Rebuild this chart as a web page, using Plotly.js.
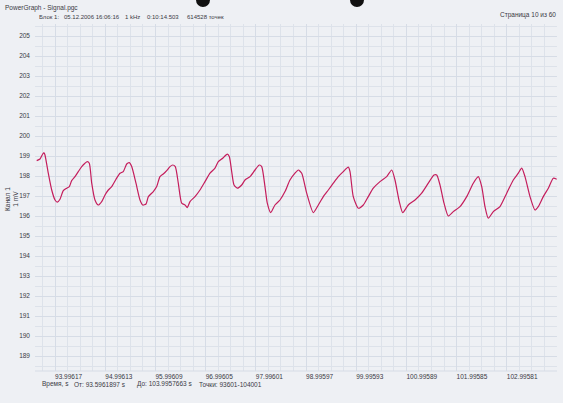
<!DOCTYPE html>
<html><head><meta charset="utf-8">
<script src="https://cdn.plot.ly/plotly-3.0.1.min.js"></script>
<style>html,body{margin:0;padding:0;background:#eef0f4;}#chart{width:563px;height:403px;}</style>
</head><body><div id="chart"></div>
<script>
// Signal samples: time (s) and value (mV)
const timeS = [93.630,93.696,93.750,93.775,93.795,93.861,93.929,93.995,94.040,94.094,94.160,94.228,94.280,94.327,94.393,94.459,94.527,94.592,94.638,94.678,94.726,94.791,94.857,94.925,94.991,95.057,95.124,95.210,95.290,95.355,95.423,95.475,95.523,95.608,95.688,95.742,95.808,95.855,95.953,96.021,96.086,96.152,96.220,96.286,96.340,96.391,96.451,96.519,96.585,96.630,96.684,96.784,96.883,96.983,97.083,97.182,97.248,97.336,97.427,97.467,97.515,97.561,97.627,97.714,97.780,97.880,97.979,98.065,98.113,98.178,98.224,98.292,98.377,98.477,98.577,98.676,98.776,98.842,98.910,99.009,99.141,99.241,99.340,99.440,99.539,99.639,99.738,99.838,99.872,99.937,100.037,100.137,100.236,100.336,100.469,100.603,100.703,100.768,100.854,100.922,101.033,101.167,101.300,101.432,101.545,101.599,101.665,101.745,101.830,101.930,102.063,102.197,102.328,102.428,102.496,102.561,102.627,102.727,102.860,102.994,103.125,103.225,103.292,103.358,103.458,103.557,103.623,103.723,103.823,103.922,103.990];
const valueMV = [198.77,198.85,199.10,199.17,199.05,198.14,197.30,196.80,196.69,196.84,197.27,197.39,197.47,197.77,197.97,198.22,198.47,198.64,198.72,198.64,197.64,196.80,196.55,196.72,197.05,197.30,197.47,197.84,198.14,198.22,198.60,198.67,198.47,197.64,196.80,196.55,196.60,196.97,197.22,197.47,197.97,198.10,198.27,198.47,198.55,198.47,197.64,196.64,196.55,196.42,196.72,196.97,197.30,197.72,198.14,198.39,198.72,198.89,199.09,198.97,198.22,197.55,197.39,197.55,197.80,197.97,198.30,198.55,198.47,197.47,196.64,196.17,196.55,196.80,197.22,197.80,198.14,198.30,198.14,197.14,196.17,196.55,196.97,197.30,197.64,197.97,198.22,198.44,198.22,196.97,196.39,196.55,196.97,197.39,197.72,197.97,198.30,197.80,196.72,196.17,196.55,196.80,197.14,197.64,198.05,198.05,197.55,196.64,196.00,196.22,196.47,196.97,197.64,197.97,197.47,196.47,195.89,196.22,196.47,197.14,197.80,198.14,198.39,197.97,196.97,196.30,196.47,196.97,197.39,197.89,197.84];
const xTickVals = [93.99617,94.99613,95.99609,96.99605,97.99601,98.99597,99.99593,100.99589,101.99585,102.99581];
const xTickText = ["93.99617","94.99613","95.99609","96.99605","97.99601","98.99597","99.99593","100.99589","101.99585","102.99581"];
const yTickVals = [189,190,191,192,193,194,195,196,197,198,199,200,201,202,203,204,205];
const timeFrom = 93.5961897, timeTo = 103.9957663;

// plot box in pixels
const L = 35, R = 6, T = 24, B = 32, W = 563, H = 403;
const pw = W - L - R, ph = H - T - B;
const px = x => (x - L) / pw;
const py = y => (H - B - y) / ph;
const font = "Liberation Sans, Arial, sans-serif";
function txt(text, x, y, opts) {
  return Object.assign({text: text, x: px(x), y: py(y), xref: 'paper', yref: 'paper',
    xanchor: 'left', yanchor: 'middle', showarrow: false,
    font: {family: font, size: 6.5, color: '#3a3a44'}}, opts || {});
}
const hdr = {font: {family: font, size: 6, color: '#3a3a44'}};

const trace = {
  x: timeS, y: valueMV, type: 'scatter', mode: 'lines',
  line: {color: '#c41d5c', width: 1.2, shape: 'spline', smoothing: 0.6},
  hoverinfo: 'skip'
};

const layout = {
  width: W, height: H,
  margin: {l: L, r: R, t: T, b: B, pad: 0},
  paper_bgcolor: '#eef0f4', plot_bgcolor: '#eef0f4',
  showlegend: false,
  xaxis: {
    range: [timeFrom, timeTo], tickmode: 'array', tickvals: xTickVals, ticktext: xTickText,
    ticklabelposition: 'outside right', ticks: '', showline: false, zeroline: false,
    showgrid: true, gridcolor: '#d6dce6', gridwidth: 1,
    tickfont: {family: font, size: 6.5, color: '#3a3a44'}, ticklabelstandoff: 0,
    minor: {tickmode: 'linear', tick0: 93.99617, dtick: 0.24999, showgrid: true, gridcolor: '#dde2ea', gridwidth: 1}
  },
  yaxis: {
    range: [188.25, 205.6], tickmode: 'array', tickvals: yTickVals, ticktext: yTickVals.map(String),
    ticks: '', showline: false, zeroline: false,
    showgrid: true, gridcolor: '#d6dce6', gridwidth: 1,
    tickfont: {family: font, size: 6.5, color: '#3a3a44'}, ticklabelstandoff: 4,
    minor: {tickmode: 'linear', tick0: 189, dtick: 0.5, showgrid: true, gridcolor: '#dde2ea', gridwidth: 1}
  },
  annotations: [
    txt('PowerGraph - Signal.pgc', 3, 8),
    txt('Блок 1:', 37, 17, hdr),
    txt('05.12.2006 16:06:16', 62, 17, hdr),
    txt('1 kHz', 123, 17, hdr),
    txt('0:10:14.503', 145, 17, hdr),
    txt('614528 точек', 185, 17, hdr),
    txt('Страница 10 из 60', 558, 15, {xanchor: 'right'}),
    txt('Канал 1<br>1 mV', 11, 199, {xanchor: 'center', textangle: -90}),
    txt('Время, s', 40, 384),
    txt('От: ' + timeFrom.toFixed(7) + ' s', 72, 384),
    txt('До: ' + timeTo.toFixed(7) + ' s', 135, 384),
    txt('Точки: 93601-104001', 197, 384)
  ],
  shapes: [
    {type: 'circle', xref: 'paper', yref: 'paper', x0: px(196), x1: px(210), y0: py(7), y1: py(-7), fillcolor: '#111', line: {width: 0}},
    {type: 'circle', xref: 'paper', yref: 'paper', x0: px(350), x1: px(364), y0: py(7), y1: py(-7), fillcolor: '#111', line: {width: 0}},
    {type: 'line', xref: 'paper', yref: 'paper', x0: 0, x1: 1, y0: 0, y1: 0, line: {color: '#d6dce6', width: 1}}
  ]
};

Plotly.newPlot('chart', [trace], layout, {displayModeBar: false, staticPlot: true});
</script></body></html>
